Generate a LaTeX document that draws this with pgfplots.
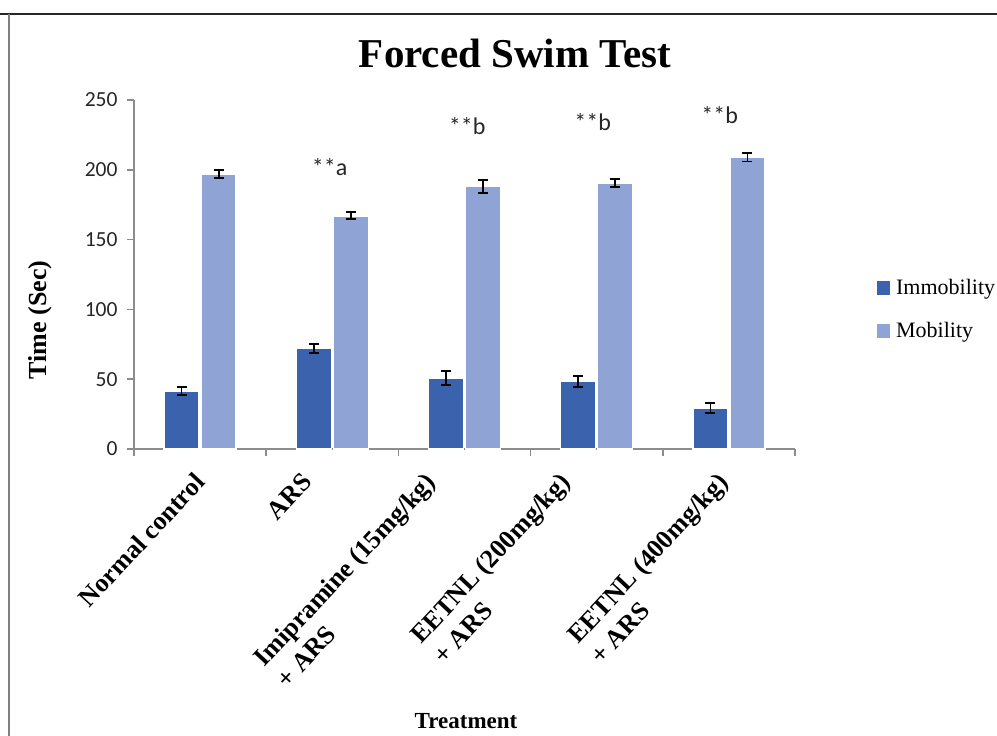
\documentclass[border=0pt]{standalone}
\usepackage{pgfplots}
\pgfplotsset{compat=1.18}
\usepackage{fontspec}
\setmainfont{Liberation Serif}
\newfontfamily\carlito{Carlito}

\definecolor{immob}{HTML}{3B62AD}
\definecolor{mob}{HTML}{8FA3D4}
\definecolor{axgray}{HTML}{8C8C8C}

\begin{document}
\begin{tikzpicture}
\useasboundingbox (0,0) rectangle (997pt,-736pt);
% frame of the figure
\draw[black!85, line width=1.5pt] (0,-14pt) -- (997pt,-14pt);
\draw[gray, line width=2pt] (8.5pt,-14pt) -- (8.5pt,-736pt);

\node[anchor=base, font=\bfseries\fontsize{41}{41}\selectfont] at (515pt,-67pt) {Forced Swim Test};

\begin{axis}[
  at={(134pt,-449pt)}, anchor=south west,
  scale only axis, width=661pt, height=349pt,
  xmin=-0.5, xmax=4.5, ymin=0, ymax=250,
  ybar=2pt, bar width=35pt,
  axis x line=bottom, axis y line=left,
  axis line style={axgray, line width=1.5pt, -},
  tick align=outside,
  tick style={axgray, line width=1.5pt},
  major tick length=7pt, minor tick length=7pt,
  ytick={0,50,...,250},
  yticklabel style={font=\carlito\fontsize{21.5}{21.5}\selectfont, text=black!85, xshift=-6pt},
  /pgf/number format/assume math mode=true,
  % label positions follow the reference, ticks sit between the groups
  xtick={0.057,0.868,1.80,2.82,4.01},
  major x tick style={draw=none},
  minor xtick={-0.5,0.5,...,4.5},
  xticklabels={Normal control, ARS, {Imipramine (15mg/kg)\\+ ARS}, {EETNL (200mg/kg)\\+ ARS}, {EETNL (400mg/kg)\\+ ARS}},
  xticklabel style={xshift=-14.5pt, yshift=-15pt, rotate=47, anchor=north east, align=left, inner sep=0pt,
    font=\bfseries\fontsize{26}{31}\selectfont},
  legend style={at={(rel axis cs:1.124,0.40)}, anchor=west, draw=none, fill=none,
    font=\fontsize{22}{22}\selectfont, row sep=22pt, inner sep=0pt,
    /tikz/every odd column/.append style={column sep=4pt}},
  legend cell align=left,
  legend image code/.code={\fill[#1, draw=none] (0pt,-7pt) rectangle (13pt,7pt);},
  error bars/error bar style={black, line width=1.8pt},
  error bars/error mark options={black, line width=1.8pt, mark size=5pt, rotate=90},
  clip=false,
]
\addplot[fill=immob, draw=white, line width=1.5pt,
  error bars/.cd, y dir=both, y explicit] coordinates {
  (0,41.5) +- (0,3)
  (1,72) +- (0,3)
  (2,51) +- (0,5)
  (3,48.5) +- (0,4)
  (4,29.5) +- (0,3.5)
};
\addplot[fill=mob, draw=white, line width=1.5pt,
  error bars/.cd, y dir=both, y explicit] coordinates {
  (0,197) +- (0,3)
  (1,167) +- (0,2.5)
  (2,188) +- (0,4.5)
  (3,190.5) +- (0,3)
  (4,209) +- (0,3)
};
\legend{Immobility, Mobility}

\node[font=\carlito\fontsize{24}{24}\selectfont, text=black!85] at (axis cs:0.98,202) {**a};
\node[font=\carlito\fontsize{24}{24}\selectfont, text=black!85] at (axis cs:2.02,231) {**b};
\node[font=\carlito\fontsize{24}{24}\selectfont, text=black!85] at (axis cs:2.97,234) {**b};
\node[font=\carlito\fontsize{24}{24}\selectfont, text=black!85] at (axis cs:3.93,239) {**b};
\end{axis}

\node[rotate=90, font=\bfseries\fontsize{26}{26}\selectfont] at (40pt,-320pt) {Time (Sec)};
\node[anchor=base, font=\bfseries\fontsize{23}{23}\selectfont] at (466pt,-728pt) {Treatment};
\end{tikzpicture}
\end{document}
